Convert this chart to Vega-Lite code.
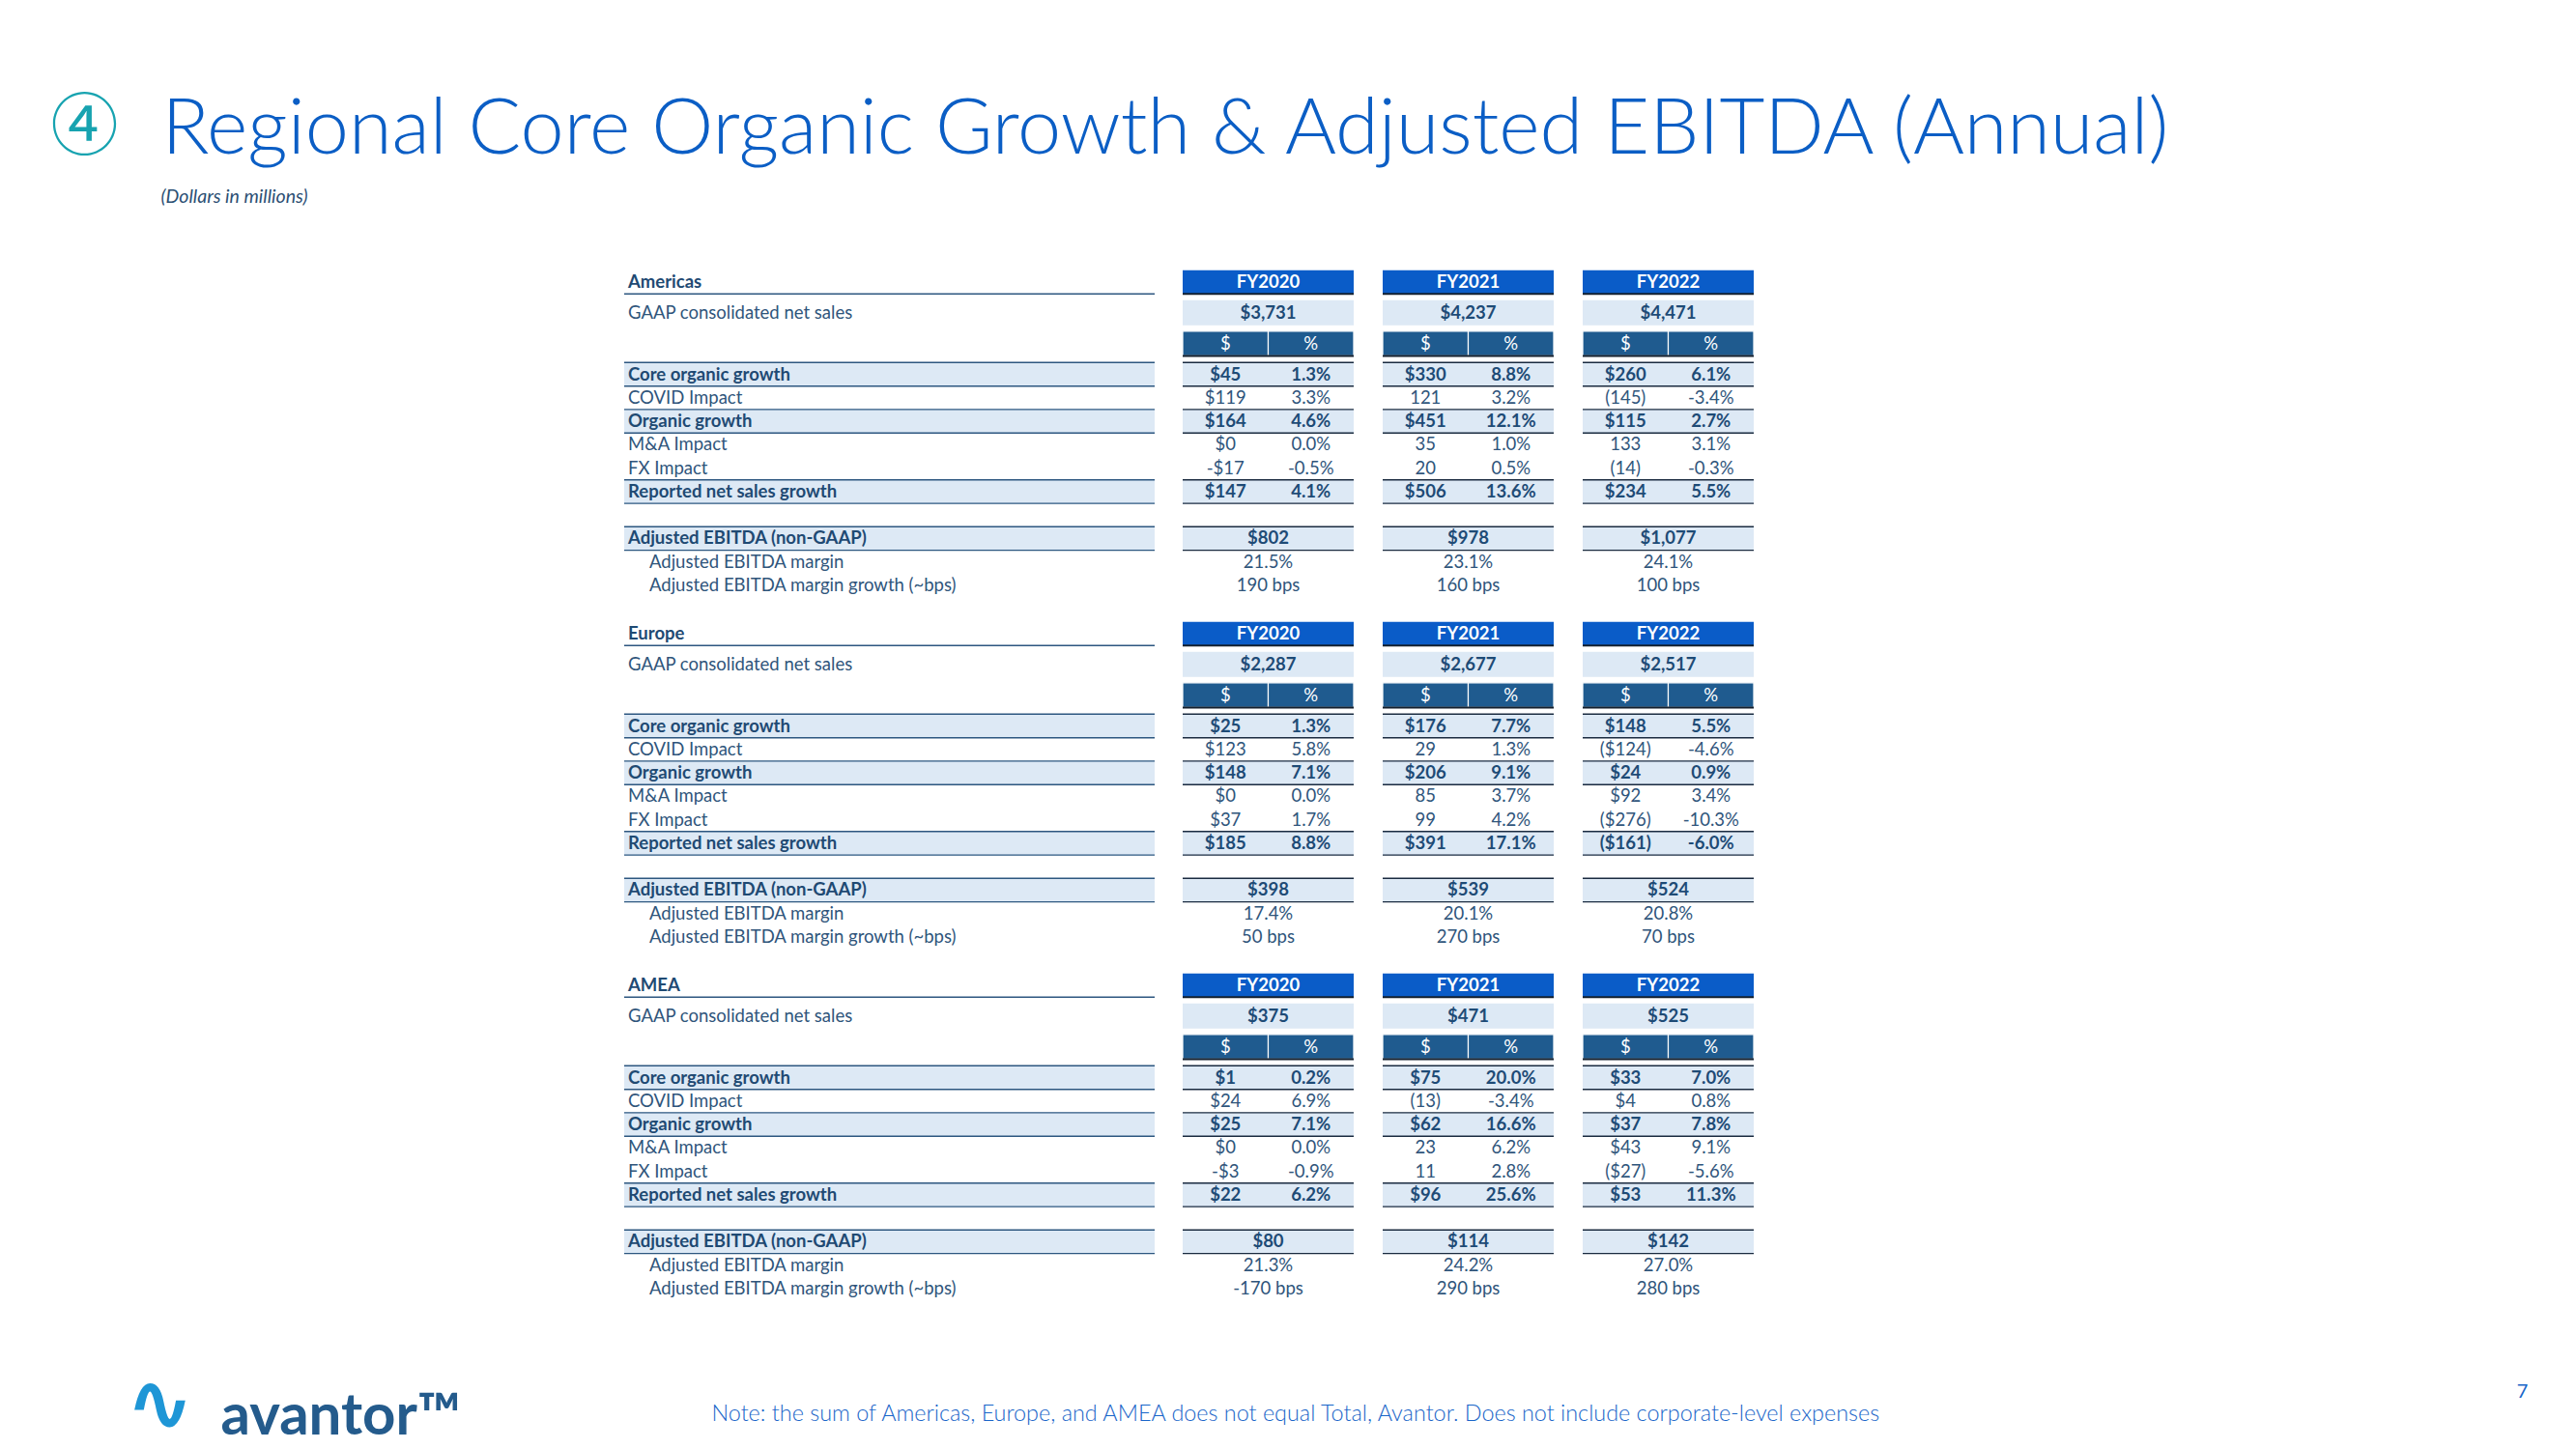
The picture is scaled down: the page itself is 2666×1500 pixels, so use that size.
{
  "$schema": "https://vega.github.io/schema/vega-lite/v6.json",
  "width": 2666,
  "height": 1500,
  "autosize": "none",
  "padding": 0,
  "background": "white",
  "config": {"view": {"stroke": null}, "font": "Lato"},
  "datasets": {
    "labels": [
      {"region": "Americas", "line": 0, "label": "Americas", "type": "region", "level": 0},
      {"region": "Americas", "line": 1, "label": "GAAP consolidated net sales", "type": "detail", "level": 0},
      {"region": "Americas", "line": 3, "label": "Core organic growth", "type": "total", "level": 0},
      {"region": "Americas", "line": 4, "label": "COVID Impact", "type": "detail", "level": 0},
      {"region": "Americas", "line": 5, "label": "Organic growth", "type": "total", "level": 0},
      {"region": "Americas", "line": 6, "label": "M&A Impact", "type": "detail", "level": 0},
      {"region": "Americas", "line": 7, "label": "FX Impact", "type": "detail", "level": 0},
      {"region": "Americas", "line": 8, "label": "Reported net sales growth", "type": "total", "level": 0},
      {"region": "Americas", "line": 10, "label": "Adjusted EBITDA (non-GAAP)", "type": "total", "level": 0},
      {"region": "Americas", "line": 11, "label": "Adjusted EBITDA margin", "type": "detail", "level": 1},
      {"region": "Americas", "line": 12, "label": "Adjusted EBITDA margin growth (~bps)", "type": "detail", "level": 1},
      {"region": "Europe", "line": 15, "label": "Europe", "type": "region", "level": 0},
      {"region": "Europe", "line": 16, "label": "GAAP consolidated net sales", "type": "detail", "level": 0},
      {"region": "Europe", "line": 18, "label": "Core organic growth", "type": "total", "level": 0},
      {"region": "Europe", "line": 19, "label": "COVID Impact", "type": "detail", "level": 0},
      {"region": "Europe", "line": 20, "label": "Organic growth", "type": "total", "level": 0},
      {"region": "Europe", "line": 21, "label": "M&A Impact", "type": "detail", "level": 0},
      {"region": "Europe", "line": 22, "label": "FX Impact", "type": "detail", "level": 0},
      {"region": "Europe", "line": 23, "label": "Reported net sales growth", "type": "total", "level": 0},
      {"region": "Europe", "line": 25, "label": "Adjusted EBITDA (non-GAAP)", "type": "total", "level": 0},
      {"region": "Europe", "line": 26, "label": "Adjusted EBITDA margin", "type": "detail", "level": 1},
      {"region": "Europe", "line": 27, "label": "Adjusted EBITDA margin growth (~bps)", "type": "detail", "level": 1},
      {"region": "AMEA", "line": 30, "label": "AMEA", "type": "region", "level": 0},
      {"region": "AMEA", "line": 31, "label": "GAAP consolidated net sales", "type": "detail", "level": 0},
      {"region": "AMEA", "line": 33, "label": "Core organic growth", "type": "total", "level": 0},
      {"region": "AMEA", "line": 34, "label": "COVID Impact", "type": "detail", "level": 0},
      {"region": "AMEA", "line": 35, "label": "Organic growth", "type": "total", "level": 0},
      {"region": "AMEA", "line": 36, "label": "M&A Impact", "type": "detail", "level": 0},
      {"region": "AMEA", "line": 37, "label": "FX Impact", "type": "detail", "level": 0},
      {"region": "AMEA", "line": 38, "label": "Reported net sales growth", "type": "total", "level": 0},
      {"region": "AMEA", "line": 40, "label": "Adjusted EBITDA (non-GAAP)", "type": "total", "level": 0},
      {"region": "AMEA", "line": 41, "label": "Adjusted EBITDA margin", "type": "detail", "level": 1},
      {"region": "AMEA", "line": 42, "label": "Adjusted EBITDA margin growth (~bps)", "type": "detail", "level": 1}
    ],
    "years": [
      {"region": "Americas", "line": 0, "year": "FY2020"},
      {"region": "Americas", "line": 0, "year": "FY2021"},
      {"region": "Americas", "line": 0, "year": "FY2022"},
      {"region": "Europe", "line": 15, "year": "FY2020"},
      {"region": "Europe", "line": 15, "year": "FY2021"},
      {"region": "Europe", "line": 15, "year": "FY2022"},
      {"region": "AMEA", "line": 30, "year": "FY2020"},
      {"region": "AMEA", "line": 30, "year": "FY2021"},
      {"region": "AMEA", "line": 30, "year": "FY2022"}
    ],
    "subheads": [
      {"region": "Americas", "line": 2, "year": "FY2020", "usd": "$", "pct": "%"},
      {"region": "Americas", "line": 2, "year": "FY2021", "usd": "$", "pct": "%"},
      {"region": "Americas", "line": 2, "year": "FY2022", "usd": "$", "pct": "%"},
      {"region": "Europe", "line": 17, "year": "FY2020", "usd": "$", "pct": "%"},
      {"region": "Europe", "line": 17, "year": "FY2021", "usd": "$", "pct": "%"},
      {"region": "Europe", "line": 17, "year": "FY2022", "usd": "$", "pct": "%"},
      {"region": "AMEA", "line": 32, "year": "FY2020", "usd": "$", "pct": "%"},
      {"region": "AMEA", "line": 32, "year": "FY2021", "usd": "$", "pct": "%"},
      {"region": "AMEA", "line": 32, "year": "FY2022", "usd": "$", "pct": "%"}
    ],
    "split": [
      {"region": "Americas", "line": 3, "year": "FY2020", "type": "total", "usd": "$45", "pct": "1.3%"},
      {"region": "Americas", "line": 3, "year": "FY2021", "type": "total", "usd": "$330", "pct": "8.8%"},
      {"region": "Americas", "line": 3, "year": "FY2022", "type": "total", "usd": "$260", "pct": "6.1%"},
      {"region": "Americas", "line": 4, "year": "FY2020", "type": "detail", "usd": "$119", "pct": "3.3%"},
      {"region": "Americas", "line": 4, "year": "FY2021", "type": "detail", "usd": "121", "pct": "3.2%"},
      {"region": "Americas", "line": 4, "year": "FY2022", "type": "detail", "usd": "(145)", "pct": "-3.4%"},
      {"region": "Americas", "line": 5, "year": "FY2020", "type": "total", "usd": "$164", "pct": "4.6%"},
      {"region": "Americas", "line": 5, "year": "FY2021", "type": "total", "usd": "$451", "pct": "12.1%"},
      {"region": "Americas", "line": 5, "year": "FY2022", "type": "total", "usd": "$115", "pct": "2.7%"},
      {"region": "Americas", "line": 6, "year": "FY2020", "type": "detail", "usd": "$0", "pct": "0.0%"},
      {"region": "Americas", "line": 6, "year": "FY2021", "type": "detail", "usd": "35", "pct": "1.0%"},
      {"region": "Americas", "line": 6, "year": "FY2022", "type": "detail", "usd": "133", "pct": "3.1%"},
      {"region": "Americas", "line": 7, "year": "FY2020", "type": "detail", "usd": "-$17", "pct": "-0.5%"},
      {"region": "Americas", "line": 7, "year": "FY2021", "type": "detail", "usd": "20", "pct": "0.5%"},
      {"region": "Americas", "line": 7, "year": "FY2022", "type": "detail", "usd": "(14)", "pct": "-0.3%"},
      {"region": "Americas", "line": 8, "year": "FY2020", "type": "total", "usd": "$147", "pct": "4.1%"},
      {"region": "Americas", "line": 8, "year": "FY2021", "type": "total", "usd": "$506", "pct": "13.6%"},
      {"region": "Americas", "line": 8, "year": "FY2022", "type": "total", "usd": "$234", "pct": "5.5%"},
      {"region": "Europe", "line": 18, "year": "FY2020", "type": "total", "usd": "$25", "pct": "1.3%"},
      {"region": "Europe", "line": 18, "year": "FY2021", "type": "total", "usd": "$176", "pct": "7.7%"},
      {"region": "Europe", "line": 18, "year": "FY2022", "type": "total", "usd": "$148", "pct": "5.5%"},
      {"region": "Europe", "line": 19, "year": "FY2020", "type": "detail", "usd": "$123", "pct": "5.8%"},
      {"region": "Europe", "line": 19, "year": "FY2021", "type": "detail", "usd": "29", "pct": "1.3%"},
      {"region": "Europe", "line": 19, "year": "FY2022", "type": "detail", "usd": "($124)", "pct": "-4.6%"},
      {"region": "Europe", "line": 20, "year": "FY2020", "type": "total", "usd": "$148", "pct": "7.1%"},
      {"region": "Europe", "line": 20, "year": "FY2021", "type": "total", "usd": "$206", "pct": "9.1%"},
      {"region": "Europe", "line": 20, "year": "FY2022", "type": "total", "usd": "$24", "pct": "0.9%"},
      {"region": "Europe", "line": 21, "year": "FY2020", "type": "detail", "usd": "$0", "pct": "0.0%"},
      {"region": "Europe", "line": 21, "year": "FY2021", "type": "detail", "usd": "85", "pct": "3.7%"},
      {"region": "Europe", "line": 21, "year": "FY2022", "type": "detail", "usd": "$92", "pct": "3.4%"},
      {"region": "Europe", "line": 22, "year": "FY2020", "type": "detail", "usd": "$37", "pct": "1.7%"},
      {"region": "Europe", "line": 22, "year": "FY2021", "type": "detail", "usd": "99", "pct": "4.2%"},
      {"region": "Europe", "line": 22, "year": "FY2022", "type": "detail", "usd": "($276)", "pct": "-10.3%"},
      {"region": "Europe", "line": 23, "year": "FY2020", "type": "total", "usd": "$185", "pct": "8.8%"},
      {"region": "Europe", "line": 23, "year": "FY2021", "type": "total", "usd": "$391", "pct": "17.1%"},
      {"region": "Europe", "line": 23, "year": "FY2022", "type": "total", "usd": "($161)", "pct": "-6.0%"},
      {"region": "AMEA", "line": 33, "year": "FY2020", "type": "total", "usd": "$1", "pct": "0.2%"},
      {"region": "AMEA", "line": 33, "year": "FY2021", "type": "total", "usd": "$75", "pct": "20.0%"},
      {"region": "AMEA", "line": 33, "year": "FY2022", "type": "total", "usd": "$33", "pct": "7.0%"},
      {"region": "AMEA", "line": 34, "year": "FY2020", "type": "detail", "usd": "$24", "pct": "6.9%"},
      {"region": "AMEA", "line": 34, "year": "FY2021", "type": "detail", "usd": "(13)", "pct": "-3.4%"},
      {"region": "AMEA", "line": 34, "year": "FY2022", "type": "detail", "usd": "$4", "pct": "0.8%"},
      {"region": "AMEA", "line": 35, "year": "FY2020", "type": "total", "usd": "$25", "pct": "7.1%"},
      {"region": "AMEA", "line": 35, "year": "FY2021", "type": "total", "usd": "$62", "pct": "16.6%"},
      {"region": "AMEA", "line": 35, "year": "FY2022", "type": "total", "usd": "$37", "pct": "7.8%"},
      {"region": "AMEA", "line": 36, "year": "FY2020", "type": "detail", "usd": "$0", "pct": "0.0%"},
      {"region": "AMEA", "line": 36, "year": "FY2021", "type": "detail", "usd": "23", "pct": "6.2%"},
      {"region": "AMEA", "line": 36, "year": "FY2022", "type": "detail", "usd": "$43", "pct": "9.1%"},
      {"region": "AMEA", "line": 37, "year": "FY2020", "type": "detail", "usd": "-$3", "pct": "-0.9%"},
      {"region": "AMEA", "line": 37, "year": "FY2021", "type": "detail", "usd": "11", "pct": "2.8%"},
      {"region": "AMEA", "line": 37, "year": "FY2022", "type": "detail", "usd": "($27)", "pct": "-5.6%"},
      {"region": "AMEA", "line": 38, "year": "FY2020", "type": "total", "usd": "$22", "pct": "6.2%"},
      {"region": "AMEA", "line": 38, "year": "FY2021", "type": "total", "usd": "$96", "pct": "25.6%"},
      {"region": "AMEA", "line": 38, "year": "FY2022", "type": "total", "usd": "$53", "pct": "11.3%"}
    ],
    "whole": [
      {"region": "Americas", "line": 1, "year": "FY2020", "type": "gaap", "value": "$3,731"},
      {"region": "Americas", "line": 1, "year": "FY2021", "type": "gaap", "value": "$4,237"},
      {"region": "Americas", "line": 1, "year": "FY2022", "type": "gaap", "value": "$4,471"},
      {"region": "Americas", "line": 10, "year": "FY2020", "type": "total", "value": "$802"},
      {"region": "Americas", "line": 10, "year": "FY2021", "type": "total", "value": "$978"},
      {"region": "Americas", "line": 10, "year": "FY2022", "type": "total", "value": "$1,077"},
      {"region": "Americas", "line": 11, "year": "FY2020", "type": "detail", "value": "21.5%"},
      {"region": "Americas", "line": 11, "year": "FY2021", "type": "detail", "value": "23.1%"},
      {"region": "Americas", "line": 11, "year": "FY2022", "type": "detail", "value": "24.1%"},
      {"region": "Americas", "line": 12, "year": "FY2020", "type": "detail", "value": "190 bps"},
      {"region": "Americas", "line": 12, "year": "FY2021", "type": "detail", "value": "160 bps"},
      {"region": "Americas", "line": 12, "year": "FY2022", "type": "detail", "value": "100 bps"},
      {"region": "Europe", "line": 16, "year": "FY2020", "type": "gaap", "value": "$2,287"},
      {"region": "Europe", "line": 16, "year": "FY2021", "type": "gaap", "value": "$2,677"},
      {"region": "Europe", "line": 16, "year": "FY2022", "type": "gaap", "value": "$2,517"},
      {"region": "Europe", "line": 25, "year": "FY2020", "type": "total", "value": "$398"},
      {"region": "Europe", "line": 25, "year": "FY2021", "type": "total", "value": "$539"},
      {"region": "Europe", "line": 25, "year": "FY2022", "type": "total", "value": "$524"},
      {"region": "Europe", "line": 26, "year": "FY2020", "type": "detail", "value": "17.4%"},
      {"region": "Europe", "line": 26, "year": "FY2021", "type": "detail", "value": "20.1%"},
      {"region": "Europe", "line": 26, "year": "FY2022", "type": "detail", "value": "20.8%"},
      {"region": "Europe", "line": 27, "year": "FY2020", "type": "detail", "value": "50 bps"},
      {"region": "Europe", "line": 27, "year": "FY2021", "type": "detail", "value": "270 bps"},
      {"region": "Europe", "line": 27, "year": "FY2022", "type": "detail", "value": "70 bps"},
      {"region": "AMEA", "line": 31, "year": "FY2020", "type": "gaap", "value": "$375"},
      {"region": "AMEA", "line": 31, "year": "FY2021", "type": "gaap", "value": "$471"},
      {"region": "AMEA", "line": 31, "year": "FY2022", "type": "gaap", "value": "$525"},
      {"region": "AMEA", "line": 40, "year": "FY2020", "type": "total", "value": "$80"},
      {"region": "AMEA", "line": 40, "year": "FY2021", "type": "total", "value": "$114"},
      {"region": "AMEA", "line": 40, "year": "FY2022", "type": "total", "value": "$142"},
      {"region": "AMEA", "line": 41, "year": "FY2020", "type": "detail", "value": "21.3%"},
      {"region": "AMEA", "line": 41, "year": "FY2021", "type": "detail", "value": "24.2%"},
      {"region": "AMEA", "line": 41, "year": "FY2022", "type": "detail", "value": "27.0%"},
      {"region": "AMEA", "line": 42, "year": "FY2020", "type": "detail", "value": "-170 bps"},
      {"region": "AMEA", "line": 42, "year": "FY2021", "type": "detail", "value": "290 bps"},
      {"region": "AMEA", "line": 42, "year": "FY2022", "type": "detail", "value": "280 bps"}
    ]
  },
  "resolve": {"scale": {"x": "independent"}, "axis": {"x": "independent"}},
  "layer": [
    {
      "data": {"name": "labels"},
      "transform": [{"filter": "datum.type === 'total'"}],
      "mark": {"type": "rect", "fill": "#dde9f5", "yOffset": -12.3, "y2Offset": 12.3},
      "encoding": {
        "x": {"datum": 0, "type": "quantitative", "scale": {"domain": [0, 1], "range": [646, 1195], "nice": false, "zero": false},
          "axis": {"orient": "top", "domain": false, "ticks": false, "labels": false, "grid": false, "titleAngle": 0, "titleLimit": 3000, "titlePadding": 0,
            "title": "Regional Core Organic Growth & Adjusted EBITDA (Annual)", "titleX": 167, "titleY": 158, "titleAlign": "left", "titleBaseline": "alphabetic",
            "titleFont": "Lato", "titleFontSize": 81, "titleFontWeight": 300, "titleColor": "#0b5ec5"}},
        "x2": {"datum": 1},
        "y": {"field": "line", "type": "quantitative", "scale": {"domain": [0, 3, 12, 15, 18, 27, 30, 33, 42], "range": [292, 387.5, 606, 656, 751.5, 970, 1020, 1115.5, 1334], "nice": false, "zero": false}, "axis": null},
        "y2": {"field": "line"}
      }
    },
    {
      "data": {"name": "labels"},
      "transform": [{"filter": "datum.type === 'total'"}],
      "mark": {"type": "rect", "fill": "#2d5780", "yOffset": -12.9, "y2Offset": -11.5},
      "encoding": {
        "x": {"datum": 0, "type": "quantitative", "scale": {"domain": [0, 1], "range": [646, 1195], "nice": false, "zero": false},
          "axis": {"orient": "top", "domain": false, "ticks": false, "labels": false, "grid": false, "titleAngle": 0, "titleLimit": 3000, "titlePadding": 0,
            "title": "(Dollars in millions)", "titleX": 166, "titleY": 209, "titleAlign": "left", "titleBaseline": "alphabetic",
            "titleFont": "Lato", "titleFontSize": 19.5, "titleFontStyle": "italic", "titleFontWeight": "normal", "titleColor": "#2c4f73"}},
        "x2": {"datum": 1},
        "y": {"field": "line", "type": "quantitative", "scale": {"domain": [0, 3, 12, 15, 18, 27, 30, 33, 42], "range": [292, 387.5, 606, 656, 751.5, 970, 1020, 1115.5, 1334], "nice": false, "zero": false}, "axis": null},
        "y2": {"field": "line"}
      }
    },
    {
      "data": {"name": "labels"},
      "transform": [{"filter": "datum.type === 'total' || datum.type === 'region'"}],
      "mark": {"type": "rect", "fill": "#2d5780", "yOffset": 11.5, "y2Offset": 12.9},
      "encoding": {
        "x": {"datum": 0, "type": "quantitative", "scale": {"domain": [0, 1], "range": [646, 1195], "nice": false, "zero": false},
          "axis": {"orient": "top", "domain": false, "ticks": false, "labels": false, "grid": false, "titleAngle": 0, "titleLimit": 3000, "titlePadding": 0,
            "title": "④", "titleX": 87, "titleY": 133, "titleAlign": "center", "titleBaseline": "middle",
            "titleFont": "Noto Sans CJK JP", "titleFontSize": 70, "titleFontWeight": "normal", "titleColor": "#17a3b0"}},
        "x2": {"datum": 1},
        "y": {"field": "line", "type": "quantitative", "scale": {"domain": [0, 3, 12, 15, 18, 27, 30, 33, 42], "range": [292, 387.5, 606, 656, 751.5, 970, 1020, 1115.5, 1334], "nice": false, "zero": false}, "axis": null},
        "y2": {"field": "line"}
      }
    },
    {
      "data": {"name": "labels"},
      "transform": [{"filter": "datum.type === 'total' || datum.type === 'region'"}],
      "mark": {"type": "text", "align": "left", "baseline": "middle", "font": "Lato", "fontSize": 18.5, "fontWeight": "bold", "color": "#1f4a73"},
      "encoding": {
        "x": {"field": "level", "type": "quantitative", "scale": {"domain": [0, 1], "range": [650, 672], "nice": false, "zero": false},
          "axis": {"orient": "top", "domain": false, "ticks": false, "labels": false, "grid": false, "titleAngle": 0, "titleLimit": 3000, "titlePadding": 0,
            "title": "avantor™", "titleX": 228, "titleY": 1484, "titleAlign": "left", "titleBaseline": "alphabetic",
            "titleFont": "Lato", "titleFontSize": 60, "titleFontWeight": "bold", "titleColor": "#245b8c"}},
        "y": {"field": "line", "type": "quantitative", "scale": {"domain": [0, 3, 12, 15, 18, 27, 30, 33, 42], "range": [292, 387.5, 606, 656, 751.5, 970, 1020, 1115.5, 1334], "nice": false, "zero": false}, "axis": null},
        "text": {"field": "label"}
      }
    },
    {
      "data": {"name": "labels"},
      "transform": [{"filter": "datum.type === 'detail'"}],
      "mark": {"type": "text", "align": "left", "baseline": "middle", "font": "Lato", "fontSize": 18.5, "fontWeight": "normal", "color": "#2f557b"},
      "encoding": {
        "x": {"field": "level", "type": "quantitative", "scale": {"domain": [0, 1], "range": [650, 672], "nice": false, "zero": false},
          "axis": {"orient": "top", "domain": false, "ticks": false, "labels": false, "grid": false, "titleAngle": 0, "titleLimit": 3000, "titlePadding": 0,
            "title": "Note: the sum of Americas, Europe, and AMEA does not equal Total, Avantor. Does not include corporate-level expenses", "titleX": 736, "titleY": 1470, "titleAlign": "left", "titleBaseline": "alphabetic",
            "titleFont": "Lato", "titleFontSize": 23.4, "titleFontWeight": 300, "titleColor": "#1a66c9"}},
        "y": {"field": "line", "type": "quantitative", "scale": {"domain": [0, 3, 12, 15, 18, 27, 30, 33, 42], "range": [292, 387.5, 606, 656, 751.5, 970, 1020, 1115.5, 1334], "nice": false, "zero": false}, "axis": null},
        "text": {"field": "label"}
      }
    },
    {
      "encoding": {
        "x": {"field": "year", "type": "nominal", "scale": {"type": "band", "domain": ["FY2020", "FY2021", "FY2022"], "range": [1224, 1815], "paddingInner": 0.145, "paddingOuter": 0},
          "axis": {"orient": "top", "domain": false, "ticks": false, "labels": false, "grid": false, "titleAngle": 0, "titleLimit": 3000, "titlePadding": 0,
            "title": "7", "titleX": 2610, "titleY": 1446, "titleAlign": "center", "titleBaseline": "alphabetic",
            "titleFont": "Lato", "titleFontSize": 20, "titleFontWeight": "normal", "titleColor": "#1a66c9"}},
        "y": {"field": "line", "type": "quantitative", "scale": {"domain": [0, 3, 12, 15, 18, 27, 30, 33, 42], "range": [292, 387.5, 606, 656, 751.5, 970, 1020, 1115.5, 1334], "nice": false, "zero": false}, "axis": null}
      },
      "layer": [
        {"data": {"name": "years"}, "mark": {"type": "rect", "fill": "#0a5cc8", "yOffset": -12.3, "y2Offset": 12.3}, "encoding": {"y2": {"field": "line"}}},
        {"data": {"name": "years"}, "mark": {"type": "rect", "fill": "#14202e", "yOffset": 11.2, "y2Offset": 13.2}, "encoding": {"y2": {"field": "line"}}},
        {"data": {"name": "years"}, "mark": {"type": "text", "baseline": "middle", "font": "Lato", "fontSize": 18.5, "fontWeight": "bold", "color": "white"}, "encoding": {"text": {"field": "year"}}},
        {"data": {"name": "whole"}, "transform": [{"filter": "datum.type === 'gaap'"}], "mark": {"type": "rect", "fill": "#dde9f5", "yOffset": -13, "y2Offset": 13}, "encoding": {"y2": {"field": "line"}}},
        {"data": {"name": "subheads"}, "transform": [{"fold": ["usd", "pct"], "as": ["measure", "value"]}], "mark": {"type": "rect", "fill": "#1f5b8f", "stroke": "white", "strokeWidth": 1.2, "yOffset": -12.8, "y2Offset": 12.8},
          "encoding": {"xOffset": {"field": "measure", "type": "nominal", "scale": {"domain": ["usd", "pct"], "paddingInner": 0, "paddingOuter": 0}}, "y2": {"field": "line"}}},
        {"data": {"name": "subheads"}, "mark": {"type": "rect", "fill": "#14202e", "yOffset": 11.8, "y2Offset": 13.8}, "encoding": {"y2": {"field": "line"}}},
        {"data": {"name": "subheads"}, "transform": [{"fold": ["usd", "pct"], "as": ["measure", "value"]}], "mark": {"type": "text", "baseline": "middle", "font": "Lato", "fontSize": 18.5, "fontWeight": "normal", "color": "white"},
          "encoding": {"xOffset": {"field": "measure", "type": "nominal", "scale": {"domain": ["usd", "pct"], "paddingInner": 0, "paddingOuter": 0}}, "text": {"field": "value"}}}
      ]
    },
    {
      "encoding": {
        "x": {"field": "year", "type": "nominal", "scale": {"type": "band", "domain": ["FY2020", "FY2021", "FY2022"], "range": [1224, 1815], "paddingInner": 0.145, "paddingOuter": 0},
          "axis": {"orient": "top", "domain": false, "ticks": false, "labels": false, "grid": false, "titleAngle": 0, "titleLimit": 3000, "titlePadding": 0,
            "title": "∿", "titleX": 165, "titleY": 1455, "titleAlign": "center", "titleBaseline": "middle",
            "titleFont": "DejaVu Sans", "titleFontSize": 84, "titleFontWeight": "bold", "titleColor": "#1e96d6"}},
        "y": {"field": "line", "type": "quantitative", "scale": {"domain": [0, 3, 12, 15, 18, 27, 30, 33, 42], "range": [292, 387.5, 606, 656, 751.5, 970, 1020, 1115.5, 1334], "nice": false, "zero": false}, "axis": null}
      },
      "layer": [
        {"data": {"name": "split"}, "transform": [{"filter": "datum.type === 'total'"}], "mark": {"type": "rect", "fill": "#dde9f5", "yOffset": -12.3, "y2Offset": 12.3}, "encoding": {"y2": {"field": "line"}}},
        {"data": {"name": "split"}, "transform": [{"filter": "datum.type === 'total'"}], "mark": {"type": "rect", "fill": "#1a2b40", "yOffset": -12.9, "y2Offset": -11.5}, "encoding": {"y2": {"field": "line"}}},
        {"data": {"name": "split"}, "transform": [{"filter": "datum.type === 'total'"}], "mark": {"type": "rect", "fill": "#1a2b40", "yOffset": 11.5, "y2Offset": 12.9}, "encoding": {"y2": {"field": "line"}}},
        {"data": {"name": "whole"}, "transform": [{"filter": "datum.type === 'total'"}], "mark": {"type": "rect", "fill": "#dde9f5", "yOffset": -12.3, "y2Offset": 12.3}, "encoding": {"y2": {"field": "line"}}},
        {"data": {"name": "whole"}, "transform": [{"filter": "datum.type === 'total'"}], "mark": {"type": "rect", "fill": "#1a2b40", "yOffset": -12.9, "y2Offset": -11.5}, "encoding": {"y2": {"field": "line"}}},
        {"data": {"name": "whole"}, "transform": [{"filter": "datum.type === 'total'"}], "mark": {"type": "rect", "fill": "#1a2b40", "yOffset": 11.5, "y2Offset": 12.9}, "encoding": {"y2": {"field": "line"}}},
        {"data": {"name": "split"}, "transform": [{"filter": "datum.type === 'total'"}, {"fold": ["usd", "pct"], "as": ["measure", "value"]}],
          "mark": {"type": "text", "baseline": "middle", "font": "Lato", "fontSize": 18.5, "fontWeight": "bold", "color": "#1e4b76"},
          "encoding": {"xOffset": {"field": "measure", "type": "nominal", "scale": {"domain": ["usd", "pct"], "paddingInner": 0, "paddingOuter": 0}}, "text": {"field": "value"}}},
        {"data": {"name": "split"}, "transform": [{"filter": "datum.type === 'detail'"}, {"fold": ["usd", "pct"], "as": ["measure", "value"]}],
          "mark": {"type": "text", "baseline": "middle", "font": "Lato", "fontSize": 18.5, "fontWeight": "normal", "color": "#2f557b"},
          "encoding": {"xOffset": {"field": "measure", "type": "nominal", "scale": {"domain": ["usd", "pct"], "paddingInner": 0, "paddingOuter": 0}}, "text": {"field": "value"}}},
        {"data": {"name": "whole"}, "transform": [{"filter": "datum.type !== 'detail'"}],
          "mark": {"type": "text", "baseline": "middle", "font": "Lato", "fontSize": 18.5, "fontWeight": "bold", "color": "#1e4b76"},
          "encoding": {"text": {"field": "value"}}},
        {"data": {"name": "whole"}, "transform": [{"filter": "datum.type === 'detail'"}],
          "mark": {"type": "text", "baseline": "middle", "font": "Lato", "fontSize": 18.5, "fontWeight": "normal", "color": "#2f557b"},
          "encoding": {"text": {"field": "value"}}}
      ]
    }
  ]
}
